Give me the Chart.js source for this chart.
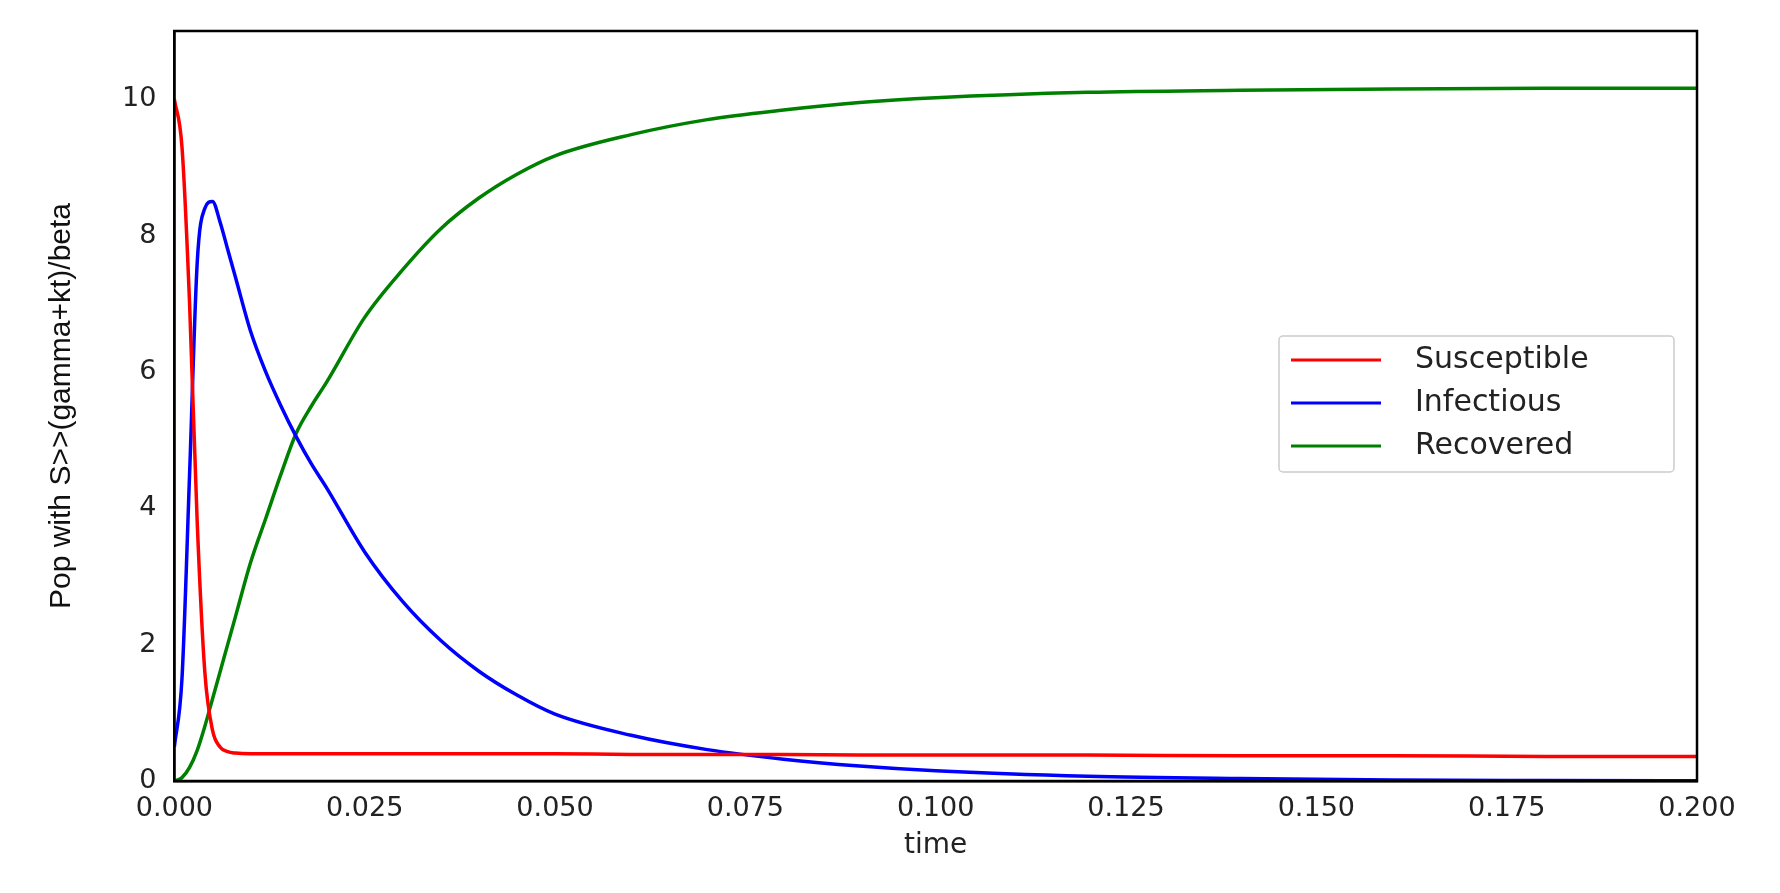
<!DOCTYPE html>
<html><head><meta charset="utf-8">
<script src="https://cdn.jsdelivr.net/npm/chart.js@4"></script>
<style>html,body{margin:0;background:#fff}#w{width:1780px;height:893px}</style>
</head><body><div id="w"><canvas id="c"></canvas></div>
<script>
const times=[0,0.001,0.002,0.003,0.004,0.005,0.006,0.007,0.008,0.01,0.012,0.014,0.016,0.018,0.02,0.025,0.03,0.035,0.04,0.045,0.05,0.06,0.07,0.08,0.09,0.1,0.12,0.14,0.16,0.18,0.2];
const susceptible=[10,9.3,7.0,3.8,1.6,0.75,0.5,0.43,0.41,0.4,0.4,0.4,0.4,0.4,0.4,0.4,0.4,0.4,0.4,0.4,0.4,0.39,0.39,0.39,0.38,0.38,0.38,0.37,0.37,0.36,0.36];
const infectious=[0.5,1.5,4.5,7.6,8.4,8.5,8.2,7.8,7.4,6.6,6.0,5.5,5.05,4.65,4.3,3.36,2.63,2.06,1.61,1.26,0.98,0.67,0.46,0.32,0.22,0.15,0.07,0.035,0.015,0.008,0.004];
const recovered=[0,0.05,0.2,0.45,0.8,1.2,1.6,2.0,2.4,3.2,3.85,4.5,5.1,5.5,5.85,6.8,7.5,8.1,8.55,8.9,9.17,9.48,9.7,9.84,9.95,10.02,10.1,10.13,10.15,10.16,10.16];
const xTicks=[0,0.025,0.05,0.075,0.1,0.125,0.15,0.175,0.2];
const yTicks=[0,2,4,6,8,10];
const names=['Susceptible','Infectious','Recovered'];
const colors=['#ff0000','#0000ff','#008000'];
const series=[susceptible,infectious,recovered];
const F='DejaVu Sans';
const legendPlugin={id:'lg',afterDraw(ch){const c=ch.ctx;
 const x0=1279,y0=336,w=395,h=136;c.save();
 c.fillStyle='rgba(255,255,255,0.9)';c.strokeStyle='#ccc';c.lineWidth=1.5;
 c.beginPath();c.roundRect(x0,y0,w,h,4);c.fill();c.stroke();
 ch.data.datasets.forEach((d,i)=>{const yy=y0+24+i*43;c.strokeStyle=d.borderColor;c.lineWidth=3;
  c.beginPath();c.moveTo(x0+12,yy);c.lineTo(x0+102,yy);c.stroke();
  c.fillStyle='#222';c.font='30px '+F;c.textBaseline='middle';c.fillText(d.label,x0+136,yy);});
 c.restore();}};
const frame={id:'fr',afterDatasetsDraw(ch){const c=ch.ctx,a=ch.chartArea;c.save();c.strokeStyle='#000';c.lineWidth=2.5;c.strokeRect(a.left,a.top,a.right-a.left,a.bottom-a.top);c.restore();}};
new Chart(document.getElementById('c'),{type:'line',
 data:{datasets:series.map((s,i)=>({label:names[i],data:times.map((t,j)=>({x:t,y:s[j]})),borderColor:colors[i],borderWidth:3.5,pointRadius:0,cubicInterpolationMode:'monotone',fill:false}))},
 options:{responsive:true,maintainAspectRatio:false,animation:false,
  layout:{padding:{left:40,right:83,top:31,bottom:8}},
  plugins:{legend:{display:false},tooltip:{enabled:false}},
  scales:{
   x:{type:'linear',min:0,max:0.2,grid:{display:false,drawTicks:true,tickLength:8,tickColor:'#000'},border:{color:'#000',width:2.5},
    afterBuildTicks:s=>{s.ticks=xTicks.map(v=>({value:v}))},
    ticks:{color:'#222',font:{family:F,size:27},padding:4,maxRotation:0,callback:v=>v.toFixed(3)},
    title:{display:true,text:'time',color:'#222',font:{family:F,size:28},padding:{top:0,bottom:22}}},
   y:{min:0,max:11,grid:{display:false,tickLength:10,tickColor:'#555'},border:{color:'#000',width:2.5},
    afterBuildTicks:s=>{s.ticks=yTicks.map(v=>({value:v}))},
    ticks:{color:'#222',font:{family:F,size:27},padding:8},
    title:{display:true,text:'Pop with S>>(gamma+kt)/beta',color:'#111',font:{family:'Liberation Sans Narrow, Liberation Sans',size:30},padding:{bottom:34}}}}},
 plugins:[legendPlugin,frame]});
</script></body></html>
